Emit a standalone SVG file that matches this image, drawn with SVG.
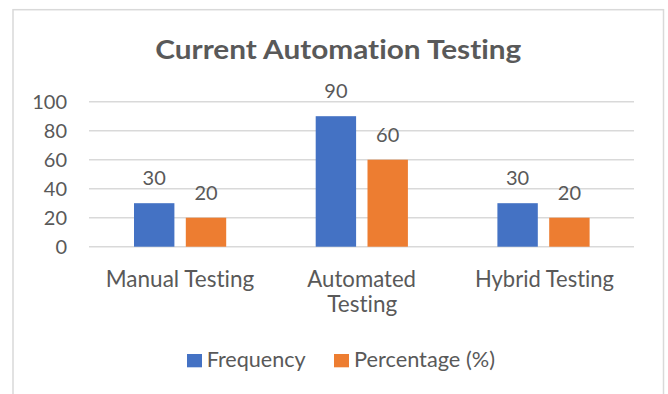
<svg xmlns="http://www.w3.org/2000/svg" width="668" height="394" viewBox="0 0 668 394">
<style>
.t{font-family:Lato,"Liberation Sans",sans-serif;fill:#595959;font-variant-ligatures:none}
.tick{font-size:20px;text-anchor:end}
.dl{font-size:20px;text-anchor:middle}
.cat{font-size:22.5px;text-anchor:middle}
.leg{font-size:21px}
.title{font-size:27.5px;font-weight:bold;text-anchor:middle}
.grid{stroke:#d9d9d9;stroke-width:1.4}
.blue{fill:#4472C4}
.orange{fill:#ED7D31}
</style>
<rect width="668" height="394" fill="#fff"/>
<rect x="13" y="9.7" width="650.5" height="400" fill="none" stroke="#d9d9d9" stroke-width="1.5"/>
<g id="title"><text class="t title" x="338.3" y="59.3" textLength="366" lengthAdjust="spacingAndGlyphs">Current Automation Testing</text></g>
<g id="gridlines">
<line class="grid" x1="89" y1="101.7" x2="634" y2="101.7"/>
<line class="grid" x1="89" y1="130.7" x2="634" y2="130.7"/>
<line class="grid" x1="89" y1="159.7" x2="634" y2="159.7"/>
<line class="grid" x1="89" y1="188.7" x2="634" y2="188.7"/>
<line class="grid" x1="89" y1="217.7" x2="634" y2="217.7"/>
<line class="grid" x1="89" y1="246.7" x2="634" y2="246.7"/>
</g>
<g id="y-axis">
<text class="t tick" x="67" y="108.9">100</text>
<text class="t tick" x="67" y="137.9">80</text>
<text class="t tick" x="67" y="166.9">60</text>
<text class="t tick" x="67" y="195.9">40</text>
<text class="t tick" x="67" y="224.9">20</text>
<text class="t tick" x="67" y="253.9">0</text>
</g>
<g id="manual">
<rect class="blue" x="134" y="203.2" width="40.4" height="43.5"/>
<rect class="orange" x="185.8" y="217.7" width="40.4" height="29"/>
<text class="t dl" x="154.2" y="185">30</text>
<text class="t dl" x="206" y="200.2">20</text>
<text class="t cat" x="180" y="287.3" textLength="148.6" lengthAdjust="spacingAndGlyphs">Manual Testing</text>
</g>
<g id="automated">
<rect class="blue" x="315.7" y="116.2" width="40.4" height="130.5"/>
<rect class="orange" x="367.5" y="159.7" width="40.4" height="87"/>
<text class="t dl" x="335.9" y="98.3">90</text>
<text class="t dl" x="387.7" y="142.2">60</text>
<text class="t cat" x="361.7" y="287.3" textLength="108.7" lengthAdjust="spacingAndGlyphs">Automated</text>
<text class="t cat" x="362.3" y="311.7" textLength="70" lengthAdjust="spacingAndGlyphs">Testing</text>
</g>
<g id="hybrid">
<rect class="blue" x="497.4" y="203.2" width="40.4" height="43.5"/>
<rect class="orange" x="549.2" y="217.7" width="40.4" height="29"/>
<text class="t dl" x="517.6" y="185">30</text>
<text class="t dl" x="569.4" y="200.2">20</text>
<text class="t cat" x="544.5" y="287.3" textLength="139" lengthAdjust="spacingAndGlyphs">Hybrid Testing</text>
</g>
<g id="legend">
<rect class="blue" x="187" y="354" width="15" height="13.3"/>
<text class="t leg" x="206.7" y="367.3" textLength="99" lengthAdjust="spacingAndGlyphs">Frequency</text>
<rect class="orange" x="334" y="354" width="15" height="13.3"/>
<text class="t leg" x="354" y="367.3" textLength="141" lengthAdjust="spacingAndGlyphs">Percentage (%)</text>
</g>
</svg>
